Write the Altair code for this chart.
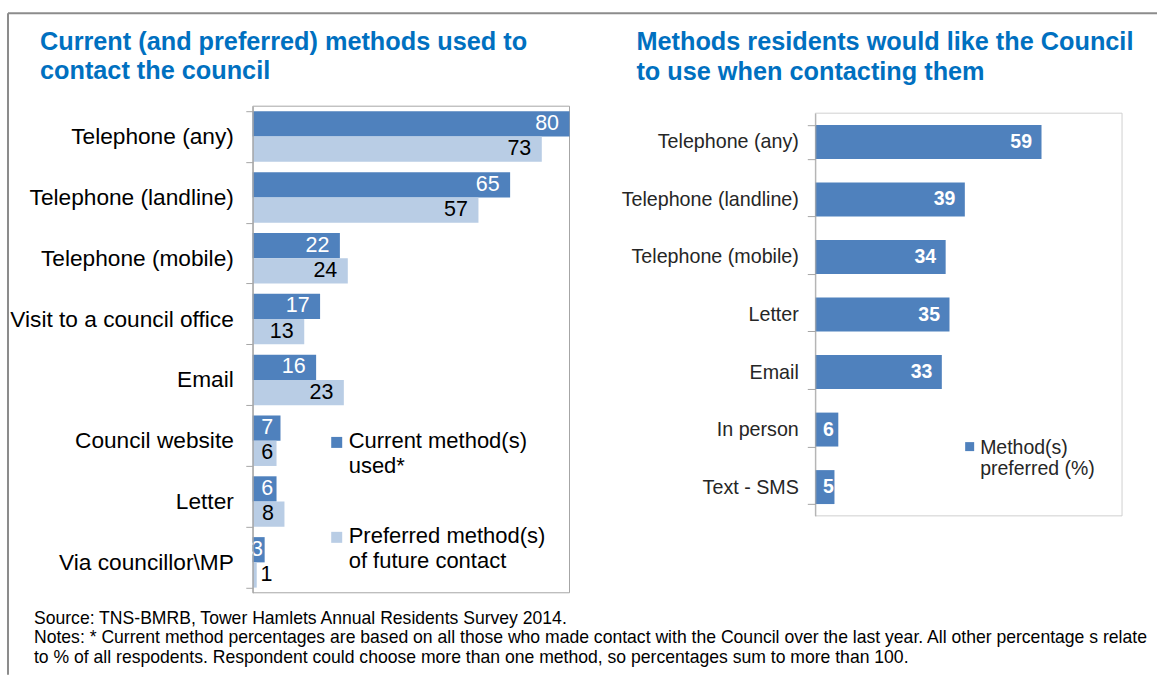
import altair as alt
import pandas as pd

# ---------------- data ----------------
left_categories = ["Telephone (any)", "Telephone (landline)", "Telephone (mobile)",
                   "Visit to a council office", "Email", "Council website", "Letter",
                   "Via councillor\\MP"]
current_values = [80, 65, 22, 17, 16, 7, 6, 3]
preferred_values = [73, 57, 24, 13, 23, 6, 8, 1]
series_names = ["Current method(s) used*", "Preferred method(s) of future contact"]

right_categories = ["Telephone (any)", "Telephone (landline)", "Telephone (mobile)",
                    "Letter", "Email", "In person", "Text - SMS"]
right_values = [59, 39, 34, 35, 33, 6, 5]
right_series = ["Method(s) preferred (%)"]

left_title = ["Current (and preferred) methods used to", "contact the council"]
right_title = ["Methods residents would like the Council", "to use when contacting them"]
notes = [
    "Source: TNS-BMRB, Tower Hamlets Annual Residents Survey 2014.",
    "Notes: * Current method percentages are based on all those who made contact with the Council over the last year. All other percentage s relate",
    "to % of all respodents. Respondent could choose more than one method, so percentages sum to more than 100.",
]

left_df = pd.DataFrame({
    "category": left_categories * 2,
    "series": [series_names[0]] * len(left_categories) + [series_names[1]] * len(left_categories),
    "value": current_values + preferred_values,
})
right_df = pd.DataFrame({"category": right_categories, "value": right_values,
                         "series": right_series * len(right_categories)})
one = pd.DataFrame({"k": [0]})

FONT = "Liberation Sans"
AXIS_GRAY = "#A6A6A6"
BLUE = "#4F81BD"
LIGHT = "#B9CDE5"
TITLE_BLUE = "#0070C0"

color_scale = alt.Scale(domain=series_names, range=[BLUE, LIGHT])

# ---------------- left panel ----------------
LW, LH = 317, 487
y_left = alt.Y("category:N", sort=left_categories, title=None,
               scale=alt.Scale(paddingInner=0.17, paddingOuter=0.085),
               axis=alt.Axis(tickBand="extent", tickSize=7, tickColor=AXIS_GRAY,
                             domainColor=AXIS_GRAY, labelFont=FONT, labelFontSize=22.7,
                             labelColor="#000000", labelPadding=12.5, labelLimit=400,
                             grid=False, zindex=1))
x_scale_l = alt.Scale(domain=[0, 80], nice=False, zero=True)
yoff = alt.YOffset("series:N", sort=series_names,
                   scale=alt.Scale(paddingInner=0, paddingOuter=0))

frame_l = alt.Chart(one).mark_rect(fillOpacity=0, stroke=AXIS_GRAY, strokeWidth=1).encode(
    x=alt.value(0), x2=alt.value(LW), y=alt.value(0), y2=alt.value(LH))

border_top = alt.Chart(one).mark_rule(color="#8C8C8C", strokeWidth=2).encode(
    x=alt.value(-245), x2=alt.value(905), y=alt.value(-93))
border_left = alt.Chart(one).mark_rule(color="#8C8C8C", strokeWidth=2).encode(
    x=alt.value(-245), y=alt.value(-93), y2=alt.value(569))

base_l = alt.Chart(left_df).encode(y=y_left, yOffset=yoff)
bars_l = base_l.mark_bar().encode(
    x=alt.X("value:Q", scale=x_scale_l, axis=None),
    color=alt.Color("series:N", scale=color_scale, legend=None))
labels_l = base_l.transform_calculate(
    pos="datum.value < 2 ? 7.6 : (datum.value < 5 ? 5.2 : max(datum.value, 7.8))"
).mark_text(align="right", baseline="middle", dx=-10.5, font=FONT, fontSize=21.5).encode(
    x=alt.X("pos:Q", scale=x_scale_l, axis=None),
    text=alt.Text("value:Q"),
    color=alt.condition(alt.datum.series == series_names[0], alt.value("#FFFFFF"), alt.value("#000000")))

leg1_sq = alt.Chart(pd.DataFrame({"series": [series_names[0]]})).mark_square(size=121, opacity=1).encode(
    x=alt.value(84), y=alt.value(336.5),
    color=alt.Color("series:N", scale=color_scale, legend=None))
leg2_sq = alt.Chart(pd.DataFrame({"series": [series_names[1]]})).mark_square(size=121, opacity=1).encode(
    x=alt.value(84), y=alt.value(431.5),
    color=alt.Color("series:N", scale=color_scale, legend=None))
leg1_tx = alt.Chart(one).mark_text(align="left", baseline="alphabetic", font=FONT, fontSize=22,
                                   lineHeight=25, color="#000000").encode(
    x=alt.value(96), y=alt.value(341.7), text=alt.value(["Current method(s)", "used*"]))
leg2_tx = alt.Chart(one).mark_text(align="left", baseline="alphabetic", font=FONT, fontSize=22,
                                   lineHeight=25.5, color="#000000").encode(
    x=alt.value(96), y=alt.value(436.7), text=alt.value(["Preferred method(s)", "of future contact"]))

title_l = alt.Chart(one).mark_text(align="left", baseline="alphabetic", font=FONT, fontSize=25.3,
                                   fontWeight="bold", lineHeight=29, color=TITLE_BLUE).encode(
    x=alt.value(-213), y=alt.value(-56.7), text=alt.value(left_title))

notes_tx = alt.Chart(one).mark_text(align="left", baseline="alphabetic", font=FONT, fontSize=17.6,
                                    lineHeight=19.5, color="#000000").encode(
    x=alt.value(-219), y=alt.value(518), text=alt.value(notes))

left = alt.layer(frame_l, border_top, border_left, bars_l, labels_l,
                 leg1_sq, leg2_sq, leg1_tx, leg2_tx, title_l, notes_tx).properties(
    width=LW, height=LH)

# ---------------- right panel ----------------
RW, RH = 307, 410
y_right = alt.Y("category:N", sort=right_categories, title=None,
                scale=alt.Scale(range=[7, 410], paddingInner=0.41, paddingOuter=0.205),
                axis=alt.Axis(tickBand="extent", tickSize=8, tickColor=AXIS_GRAY,
                              domainColor=AXIS_GRAY, labelFont=FONT, labelFontSize=19.7,
                              labelColor="#262626", labelPadding=9, labelLimit=400,
                              grid=False, zindex=1))
x_scale_r = alt.Scale(domain=[0, 80], nice=False, zero=True)

frame_r = alt.Chart(one).mark_rect(fillOpacity=0, stroke="#D0D0D0", strokeWidth=1).encode(
    x=alt.value(0), x2=alt.value(RW), y=alt.value(7), y2=alt.value(410))

base_r = alt.Chart(right_df).encode(y=y_right)
bars_r = base_r.mark_bar(color=BLUE).encode(x=alt.X("value:Q", scale=x_scale_r, axis=None))
labels_r = base_r.transform_calculate(pos="max(datum.value, 7.3)").mark_text(
    align="right", baseline="middle", dx=-9.5, font=FONT, fontSize=19.5, fontWeight="bold",
    color="#FFFFFF").encode(
    x=alt.X("pos:Q", scale=x_scale_r, axis=None), text=alt.Text("value:Q"))

legr_sq = alt.Chart(one).mark_square(size=81, opacity=1, color=BLUE).encode(
    x=alt.value(154.5), y=alt.value(340.7))
legr_tx = alt.Chart(one).mark_text(align="left", baseline="alphabetic", font=FONT, fontSize=19.5,
                                   lineHeight=21.5, color="#262626").encode(
    x=alt.value(165), y=alt.value(347.7), text=alt.value(["Method(s)", "preferred (%)"]))

title_r = alt.Chart(one).mark_text(align="left", baseline="alphabetic", font=FONT, fontSize=25.3,
                                   fontWeight="bold", lineHeight=30, color=TITLE_BLUE).encode(
    x=alt.value(-179), y=alt.value(-56), text=alt.value(right_title))

right = alt.layer(frame_r, bars_r, labels_r, legr_sq, legr_tx, title_r).properties(
    width=RW, height=RH)

chart = alt.hconcat(left, right, spacing=246, bounds="flush").properties(
    padding={"left": 6, "top": 11, "right": 0, "bottom": 0},
    background="#FFFFFF",
).configure_view(stroke="transparent").configure_concat(spacing=246)

chart.save("out.html", embed_options={"renderer": "svg", "actions": False})
